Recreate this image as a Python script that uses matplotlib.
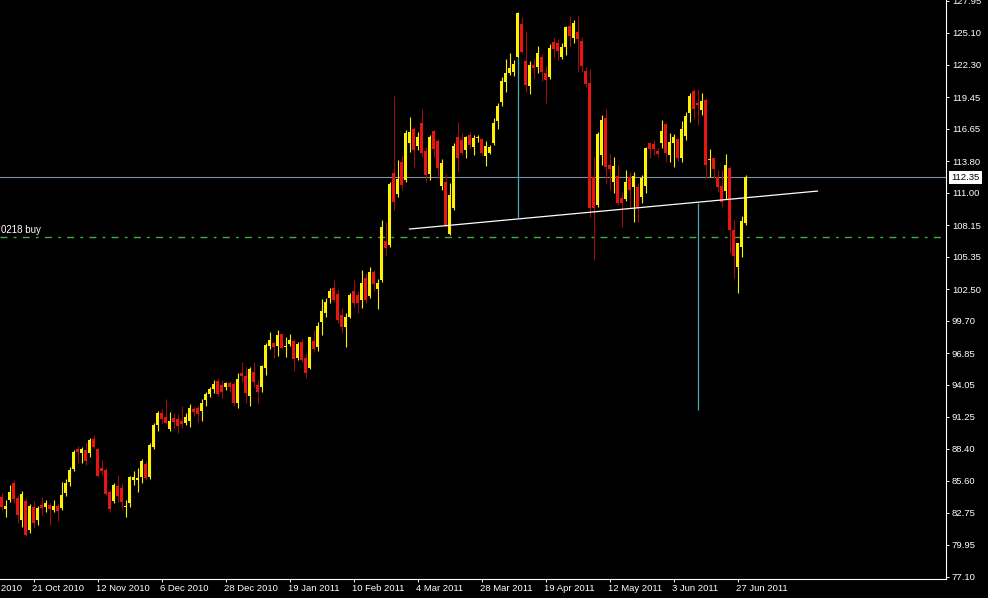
import matplotlib
matplotlib.use('Agg')
import matplotlib.pyplot as plt
import matplotlib.transforms as mtransforms
import numpy as np
import pandas as pd

# daily bars, 11 Oct 2010 .. 29 Jun 2011
opens = [84.15, 83.10, 83.89, 85.39, 84.07, 82.13, 83.80, 81.27, 83.27, 82.13,
         83.45, 83.27, 83.45, 83.01, 83.36, 83.18, 84.51, 85.48, 86.62, 88.39,
         88.03, 88.30, 88.03, 89.27, 88.39, 86.71, 86.54, 84.60, 83.80, 85.13,
         84.95, 83.27, 83.63, 85.65, 85.65, 85.92, 87.06, 85.92, 88.56, 90.50,
         91.56, 91.21, 90.15, 91.12, 91.03, 90.86, 90.68, 90.86, 91.92, 92.00,
         91.74, 92.71, 93.24, 93.68, 94.39, 94.03, 93.86, 94.21, 94.12, 92.45,
         95.09, 94.83, 93.06, 95.18, 94.03, 93.86, 95.54, 97.48, 97.75, 97.48,
         98.54, 97.35, 97.66, 97.92, 96.42, 97.83, 96.42, 95.54, 97.92, 97.39,
         99.60, 100.39, 101.72, 102.60, 102.07, 100.22, 99.16, 100.04, 102.33, 101.98,
         101.54, 103.48, 101.89, 104.00, 102.51, 103.30, 106.74, 106.39, 112.74, 110.89,
         113.71, 112.13, 115.39, 116.63, 115.13, 117.16, 114.69, 112.66, 116.45, 115.57,
         111.60, 111.95, 107.36, 109.66, 115.92, 115.66, 114.77, 116.10, 115.04, 115.83,
         115.75, 114.25, 114.51, 115.39, 117.34, 119.01, 120.77, 121.57, 121.66, 122.98,
         125.89, 122.63, 120.42, 122.27, 122.10, 122.98, 121.57, 121.22, 124.30, 124.22,
         122.98, 123.86, 125.72, 124.66, 125.19, 124.39, 121.74, 120.69, 112.39, 109.92,
         114.33, 117.60, 113.45, 111.95, 112.48, 110.54, 110.45, 112.39, 111.51, 111.51,
         110.63, 111.60, 115.39, 115.30, 114.69, 115.39, 117.07, 114.33, 115.39, 115.75,
         114.07, 116.01, 118.04, 119.98, 118.92, 118.30, 119.19, 113.89, 114.07, 112.39,
         111.60, 111.16, 113.19, 107.71, 104.45, 106.22, 108.33]
highs = [84.51, 83.89, 85.21, 85.65, 84.33, 84.68, 84.07, 83.54, 83.80, 83.36,
         84.15, 83.89, 83.63, 83.89, 83.63, 85.48, 85.74, 86.80, 88.30, 88.65,
         88.56, 88.92, 89.36, 89.62, 88.48, 87.42, 86.71, 84.77, 85.39, 86.09,
         85.39, 83.89, 86.01, 86.45, 86.71, 87.50, 87.33, 88.92, 90.68, 91.74,
         91.92, 92.80, 91.65, 91.56, 91.48, 92.18, 91.56, 92.36, 92.09, 92.27,
         92.80, 93.42, 93.86, 94.48, 94.65, 94.48, 94.30, 94.39, 94.30, 95.09,
         96.07, 95.62, 95.62, 96.07, 94.48, 95.80, 97.74, 98.72, 97.83, 98.89,
         98.63, 98.27, 98.54, 98.10, 97.83, 98.10, 96.86, 98.27, 98.89, 99.60,
         101.63, 101.72, 102.60, 103.30, 102.51, 100.83, 100.39, 102.16, 103.30, 102.33,
         104.16, 103.92, 104.45, 104.16, 103.39, 108.60, 108.42, 111.95, 119.54, 113.89,
         114.33, 116.54, 117.69, 116.80, 116.36, 118.39, 115.04, 116.10, 116.54, 115.75,
         113.98, 112.66, 111.86, 115.39, 117.24, 116.27, 116.01, 116.36, 116.10, 116.10,
         115.83, 115.57, 115.22, 117.60, 118.92, 121.22, 122.80, 123.33, 122.72, 126.95,
         126.51, 125.27, 122.63, 122.80, 123.95, 123.25, 122.19, 124.13, 124.75, 124.57,
         124.22, 125.72, 126.60, 126.25, 126.60, 124.75, 122.10, 121.92, 114.16, 116.36,
         117.86, 118.39, 114.42, 114.16, 113.45, 111.07, 113.01, 112.83, 112.83, 111.86,
         112.57, 115.04, 115.48, 115.66, 114.95, 117.42, 117.16, 116.27, 116.19, 115.83,
         117.33, 118.13, 119.80, 120.16, 120.16, 119.80, 119.36, 114.86, 114.16, 113.01,
         113.01, 114.42, 113.36, 108.60, 106.57, 108.95, 112.57]
lows = [83.01, 82.39, 83.71, 83.63, 81.86, 81.50, 80.71, 81.00, 81.42, 81.68,
        82.57, 82.83, 81.68, 82.83, 82.04, 83.01, 84.24, 85.13, 86.45, 87.15,
        87.15, 86.98, 87.68, 88.48, 85.92, 86.09, 84.33, 82.83, 83.63, 83.71,
        83.10, 82.39, 83.27, 85.21, 84.60, 85.39, 85.65, 85.74, 88.39, 89.97,
        90.68, 90.59, 89.97, 90.24, 89.80, 90.24, 90.50, 90.33, 91.30, 90.77,
        90.86, 92.18, 92.98, 93.33, 93.06, 92.89, 93.59, 93.42, 92.18, 92.00,
        94.30, 92.45, 92.18, 93.86, 92.45, 93.42, 94.92, 97.22, 96.42, 96.60,
        97.22, 96.51, 97.48, 95.27, 96.25, 96.07, 94.65, 95.45, 97.04, 97.04,
        98.45, 100.04, 101.27, 101.36, 99.51, 98.63, 97.39, 99.95, 100.92, 100.39,
        100.83, 101.27, 101.72, 102.33, 100.74, 103.13, 105.51, 106.22, 109.48, 110.63,
        111.25, 111.95, 114.60, 113.27, 114.77, 114.16, 111.95, 112.13, 114.16, 112.22,
        111.25, 107.98, 107.27, 109.48, 112.92, 114.33, 114.07, 114.95, 114.33, 115.48,
        114.33, 113.36, 114.42, 115.22, 116.63, 118.66, 119.89, 121.39, 121.30, 122.89,
        123.33, 119.89, 119.72, 121.13, 121.57, 120.86, 118.92, 121.04, 122.98, 122.72,
        122.80, 123.16, 123.86, 124.22, 121.66, 121.66, 120.33, 108.86, 105.07, 109.75,
        113.45, 111.86, 111.25, 110.98, 109.92, 107.98, 110.27, 109.66, 108.42, 108.42,
        110.10, 110.98, 114.07, 114.33, 114.16, 114.95, 113.71, 113.71, 113.27, 113.80,
        113.71, 115.66, 117.25, 117.51, 116.98, 117.86, 112.30, 112.39, 112.30, 111.07,
        109.75, 110.45, 105.69, 103.48, 102.16, 105.33, 108.15]
closes = [83.27, 83.36, 84.60, 83.98, 82.57, 84.42, 80.80, 83.36, 81.86, 83.18,
          83.18, 83.63, 83.10, 83.36, 82.92, 84.33, 85.39, 86.54, 88.12, 88.12,
          88.39, 87.33, 89.18, 88.56, 86.00, 86.45, 84.42, 83.10, 85.21, 84.24,
          83.71, 83.36, 85.92, 85.92, 85.83, 87.33, 85.83, 88.74, 90.50, 91.56,
          91.03, 90.68, 90.86, 90.77, 90.42, 90.59, 91.21, 92.00, 91.65, 91.48,
          92.45, 93.24, 93.68, 94.12, 93.24, 93.42, 94.21, 93.86, 92.45, 94.56,
          94.83, 93.33, 95.45, 94.30, 93.42, 95.71, 97.57, 98.01, 97.39, 98.45,
          97.30, 97.39, 98.01, 96.33, 97.66, 96.25, 95.09, 98.27, 97.22, 99.25,
          100.57, 101.36, 102.33, 101.54, 99.78, 99.16, 100.04, 101.98, 101.27, 101.27,
          103.04, 101.54, 104.00, 102.95, 103.04, 107.98, 106.12, 111.77, 110.19, 112.22,
          111.69, 116.27, 116.36, 114.77, 115.92, 114.51, 112.57, 115.92, 114.86, 113.19,
          113.63, 108.07, 110.80, 115.13, 114.07, 114.51, 115.92, 115.22, 115.83, 115.92,
          114.51, 115.13, 115.04, 117.16, 118.66, 120.86, 121.57, 122.01, 122.36, 126.86,
          123.42, 120.51, 122.27, 122.01, 123.33, 121.66, 120.95, 123.77, 123.69, 123.51,
          123.86, 125.63, 124.83, 125.98, 124.57, 122.19, 120.60, 109.66, 109.66, 116.19,
          117.42, 113.27, 113.10, 113.36, 110.10, 110.10, 111.95, 111.25, 112.48, 109.66,
          112.30, 114.95, 114.86, 114.86, 114.42, 116.45, 114.51, 115.48, 115.92, 114.07,
          116.63, 117.78, 119.54, 118.39, 118.75, 119.10, 113.45, 113.98, 113.10, 111.51,
          110.19, 113.45, 107.71, 105.42, 106.57, 108.51, 112.35]

price_ticks = [127.95, 125.10, 122.30, 119.45, 116.65, 113.80, 111.00, 108.15, 105.35,
               102.50, 99.70, 96.85, 94.05, 91.25, 88.40, 85.60, 82.75, 79.95, 77.10]
current_price = 112.35
order_price = 107.10
order_label = "0218 buy"
# neckline: (bar, price) at both ends
neckline = [(102, 107.80), (204, 111.15)]
# vertical measuring lines: (bar, low price, high price)
measure_lines = [(129, 108.78, 122.90), (174, 91.84, 110.10)]

# trading days, good friday has no bar; 8 extra days before the first candle for the clipped label
days = pd.bdate_range('2010-09-29', '2011-06-29')
days = days[days != pd.Timestamp('2011-04-22')]
first = 8

UP = '#fff200'
DOWN = '#e8140f'
DOWN_WICK = '#9a0e0e'
FONT = 'Liberation Sans'

o = np.array(opens)
h = np.array(highs)
l = np.array(lows)
c = np.array(closes)
x = np.arange(len(c))
up = c >= o

fig = plt.figure(figsize=(9.88, 5.98), dpi=100, facecolor='black')
ax = fig.add_axes([0, 19 / 598, 946 / 988, 579 / 598])
ax.set_facecolor('black')

ax.vlines(x, l, h, colors=np.where(up, UP, DOWN_WICK), linewidth=0.8, zorder=2)
body_h = np.maximum(np.abs(c - o), 0.09)
ax.bar(x, body_h, bottom=np.minimum(o, c), width=0.75,
       color=np.where(up, UP, DOWN), linewidth=0, zorder=3)

ax.axhline(current_price, color='#7f8fa0', linewidth=0.8, zorder=1)
ax.axhline(order_price, color='#3fb03f', linewidth=1.0, linestyle=(0, (5, 4.5, 2, 4.5)), zorder=1)
ax.plot([p[0] for p in neckline], [p[1] for p in neckline], color='white', linewidth=0.9, zorder=4)
for bar, lo, hi in measure_lines:
    ax.vlines(bar, lo, hi, colors='#4aa9b4', linewidth=0.9, zorder=4)

ax.set_xlim(-0.375, 236.125)
ax.set_ylim(128.01 - 579 * 0.08824, 128.01)

for s in ['top', 'left']:
    ax.spines[s].set_visible(False)
for s in ['right', 'bottom']:
    ax.spines[s].set_color('white')
    ax.spines[s].set_linewidth(0.8)

ax.yaxis.tick_right()
ax.set_yticks(price_ticks)
ax.set_yticklabels([f"{v:.2f}" for v in price_ticks])
ax.tick_params(axis='y', colors='white', length=2.2, width=0.7, pad=2, labelsize=6.8)
for t in ax.get_yticklabels():
    t.set_family(FONT)

tick_bars = list(range(-8, len(c), 16))
ax.set_xticks([b for b in tick_bars if b >= 0])
ax.set_xticklabels([])
ax.tick_params(axis='x', colors='white', length=2.2, width=0.7)
xtrans = ax.get_xaxis_transform()
for b in tick_bars:
    d = days[b + first]
    ax.text(b - 0.3, -5 / 579, f"{d.day} {d:%b %Y}", transform=xtrans, ha='left', va='top',
            color='white', fontsize=6.8, family=FONT, clip_on=False)

ytrans = mtransforms.blended_transform_factory(ax.transAxes, ax.transData)
ax.text(1 + 5 / 946, current_price, f"{current_price:.2f}", transform=ytrans, ha='left', va='center',
        color='black', fontsize=6.8, family=FONT, clip_on=False, zorder=6,
        bbox=dict(boxstyle='square,pad=0.25', fc='white', ec='none'))
ax.annotate(order_label, xy=(0, order_price), xycoords=ytrans, xytext=(0.8, 1.2),
            textcoords='offset points', ha='left', va='bottom', color='white',
            fontsize=7, family=FONT)

fig.savefig('out.png', dpi=100, facecolor='black')
